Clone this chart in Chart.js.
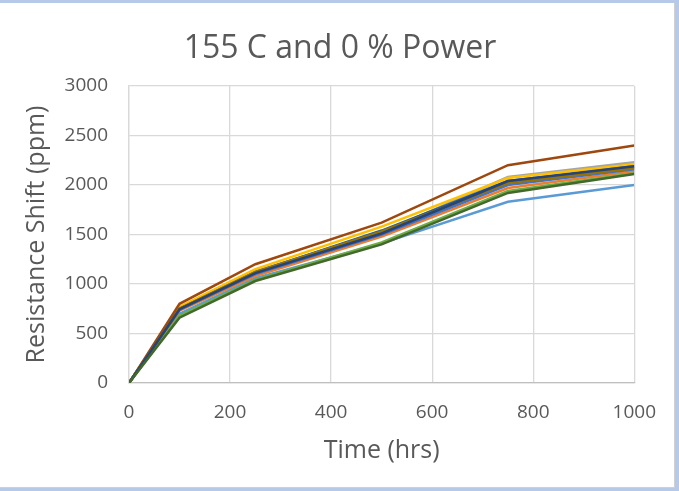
<!DOCTYPE html>
<html>
<head>
<meta charset="utf-8">
<script src="https://cdn.jsdelivr.net/npm/chart.js@4/dist/chart.umd.min.js"></script>
<style>
  html, body { margin: 0; padding: 0; background: #b7c9e8; width: 679px; height: 491px; overflow: hidden; }
  #frame {
    position: absolute; left: 0; top: 3px; width: 674px; height: 484px;
    background: #ffffff; border-right: 1px solid #d0d0d0; border-bottom: 1px solid #d0d0d0;
  }
  canvas { display: block; }
</style>
</head>
<body>
<div id="frame"><canvas id="c" width="674" height="484"></canvas></div>
<script>
// Test times (hrs)
const hours = [0, 100, 250, 500, 750, 1000];

// Resistance shift (ppm) per sample
const s1  = [0, 700, 1060, 1410, 1830, 2000];
const s2  = [0, 730, 1080, 1480, 1970, 2140];
const s3  = [0, 760, 1130, 1520, 2080, 2230];
const s4  = [0, 770, 1150, 1580, 2070, 2210];
const s5  = [0, 740, 1100, 1500, 2000, 2160];
const s6  = [0, 680, 1040, 1420, 1940, 2120];
const s7  = [0, 750, 1120, 1540, 2040, 2180];
const s8  = [0, 800, 1200, 1620, 2200, 2400];
const s9  = [0, 740, 1110, 1520, 2030, 2190];
const s10 = [0, 750, 1120, 1530, 2020, 2170];
const s11 = [0, 745, 1110, 1510, 2040, 2190];
const s12 = [0, 660, 1030, 1400, 1920, 2110];

const seriesValues = [s1, s2, s3, s4, s5, s6, s7, s8, s9, s10, s11, s12];
const seriesColors = ['#5B9BD5', '#ED7D31', '#A5A5A5', '#FFC000', '#4472C4', '#70AD47',
                      '#255E91', '#9E480E', '#636363', '#997300', '#264478', '#43682B'];

const xTicks = [0, 200, 400, 600, 800, 1000];
const yTicks = [0, 500, 1000, 1500, 2000, 2500, 3000];

const chartTitle = '155 C and 0 % Power';
const textColor = '#595959';
const fontFamily = '"Open Sans", "Noto Sans", sans-serif';

const datasets = seriesValues.map((vals, i) => ({
  label: 'Sample ' + (i + 1),
  data: vals.map((v, j) => ({ x: hours[j], y: v })),
  borderColor: seriesColors[i],
  backgroundColor: seriesColors[i],
  borderWidth: 2.5,
  pointRadius: 0,
  tension: 0,
  fill: false,
  order: seriesValues.length - i
}));

// Chart title centred on the whole frame
const titlePlugin = {
  id: 'frameTitle',
  afterDraw(chart) {
    const ctx = chart.ctx;
    ctx.save();
    ctx.fillStyle = textColor;
    ctx.font = '32px ' + fontFamily;
    ctx.textAlign = 'center';
    ctx.textBaseline = 'alphabetic';
    ctx.fillText(chartTitle, 340, 55);
    ctx.restore();
  }
};

new Chart(document.getElementById('c'), {
  type: 'line',
  data: { datasets },
  plugins: [titlePlugin],
  options: {
    responsive: false,
    animation: false,
    layout: { padding: { left: 0, right: 37, top: 83, bottom: 0 } },
    plugins: {
      legend: { display: false },
      tooltip: { enabled: false },
      title: { display: false }
    },
    scales: {
      x: {
        type: 'linear',
        min: 0, max: 1000,
        afterBuildTicks: (axis) => { axis.ticks = xTicks.map(v => ({ value: v })); },
        afterFit: (axis) => { axis.height = 104; },
        grid: { color: '#d9d9d9', lineWidth: 1.3, drawTicks: false },
        border: { color: '#bfbfbf', width: 1.3 },
        ticks: { color: textColor, padding: 18, maxRotation: 0,
                 callback: (v) => String(v),
                 font: { family: fontFamily, size: 19 } },
        title: {
          display: true, text: 'Time (hrs)', color: textColor,
          font: { family: fontFamily, size: 25, lineHeight: 1.2 },
          padding: { top: 0, bottom: 21 }
        }
      },
      y: {
        type: 'linear',
        min: 0, max: 3000,
        afterBuildTicks: (axis) => { axis.ticks = yTicks.map(v => ({ value: v })); },
        afterFit: (axis) => { axis.width = 129; },
        grid: { color: '#d9d9d9', lineWidth: 1.3, drawTicks: false },
        border: { color: '#d9d9d9', width: 1.3 },
        ticks: { color: textColor, padding: 21,
                 callback: (v) => String(v),
                 font: { family: fontFamily, size: 19 } },
        title: {
          display: true, text: 'Resistance Shift (ppm)', color: textColor,
          font: { family: fontFamily, size: 25, lineHeight: 1.2 },
          padding: { top: 22, bottom: 0 }
        }
      }
    }
  }
});
</script>
</body>
</html>
